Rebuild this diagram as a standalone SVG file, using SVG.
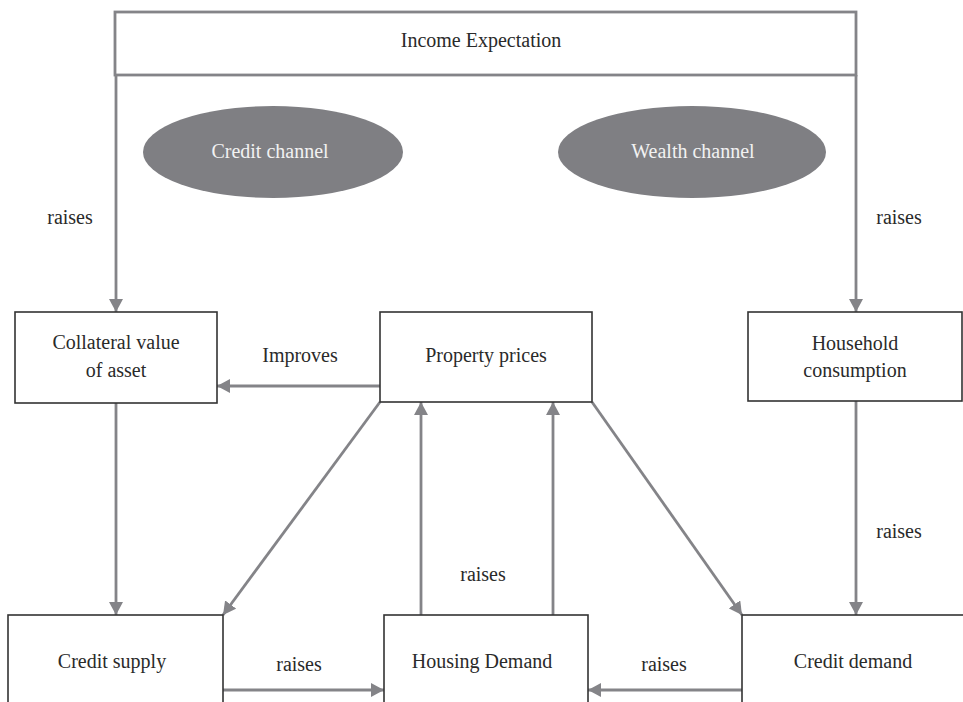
<svg xmlns="http://www.w3.org/2000/svg" width="963" height="702" viewBox="0 0 963 702">
<style>
.box{fill:#fff;stroke:#333;stroke-width:1.6}
.conn{stroke:#848488;stroke-width:2.8;fill:none}
.t{font-family:"Liberation Serif","Times New Roman",serif;font-size:20px;fill:#2a2a2a;text-anchor:middle}
.w{fill:#f2f2f2}
.ell{fill:#7f7f83}
</style>
<defs>
<marker id="ah" markerUnits="userSpaceOnUse" markerWidth="14" markerHeight="14" refX="13" refY="7" orient="auto">
<path d="M0,0 L13,7 L0,14 z" fill="#848488"/>
</marker>
</defs>
<rect width="963" height="702" fill="#fff"/>
<g id="income">
<rect x="115" y="12" width="741" height="63" fill="#fff" stroke="#848488" stroke-width="2.8"/>
<text class="t" x="481" y="47">Income Expectation</text>
</g>
<g id="credit-channel">
<ellipse class="ell" cx="273" cy="152" rx="130" ry="46"/>
<text class="t w" x="270" y="158">Credit channel</text>
</g>
<g id="wealth-channel">
<ellipse class="ell" cx="692" cy="152" rx="134" ry="46"/>
<text class="t w" x="693" y="158">Wealth channel</text>
</g>
<g id="connectors">
<line class="conn" x1="116" y1="75" x2="116" y2="312" marker-end="url(#ah)"/>
<line class="conn" x1="856" y1="75" x2="856" y2="312" marker-end="url(#ah)"/>
<line class="conn" x1="380" y1="386" x2="217" y2="386" marker-end="url(#ah)"/>
<line class="conn" x1="116" y1="403" x2="116" y2="615" marker-end="url(#ah)"/>
<line class="conn" x1="856" y1="401" x2="856" y2="615" marker-end="url(#ah)"/>
<line class="conn" x1="380" y1="402" x2="223" y2="615" marker-end="url(#ah)"/>
<line class="conn" x1="592" y1="402" x2="742" y2="615" marker-end="url(#ah)"/>
<line class="conn" x1="421" y1="615" x2="421" y2="402" marker-end="url(#ah)"/>
<line class="conn" x1="553" y1="615" x2="553" y2="402" marker-end="url(#ah)"/>
<line class="conn" x1="223" y1="690" x2="384" y2="690" marker-end="url(#ah)"/>
<line class="conn" x1="742" y1="690" x2="588" y2="690" marker-end="url(#ah)"/>
<text class="t" x="70" y="224">raises</text>
<text class="t" x="899" y="224">raises</text>
<text class="t" x="300" y="362">Improves</text>
<text class="t" x="899" y="538">raises</text>
<text class="t" x="483" y="581">raises</text>
<text class="t" x="299" y="671">raises</text>
<text class="t" x="664" y="671">raises</text>
</g>
<g id="collateral">
<rect class="box" x="15" y="312" width="202" height="91"/>
<text class="t" x="116" y="349">Collateral value</text>
<text class="t" x="116" y="377">of asset</text>
</g>
<g id="property-prices">
<rect class="box" x="380" y="312" width="212" height="90"/>
<text class="t" x="486" y="362">Property prices</text>
</g>
<g id="household">
<rect class="box" x="748" y="312" width="214" height="89"/>
<text class="t" x="855" y="350">Household</text>
<text class="t" x="855" y="377">consumption</text>
</g>
<g id="credit-supply">
<rect class="box" x="8" y="615" width="215" height="100"/>
<text class="t" x="112" y="668">Credit supply</text>
</g>
<g id="housing-demand">
<rect class="box" x="384" y="615" width="204" height="100"/>
<text class="t" x="482" y="668">Housing Demand</text>
</g>
<g id="credit-demand">
<rect class="box" x="742" y="615" width="232" height="100"/>
<text class="t" x="853" y="668">Credit demand</text>
</g>
</svg>
